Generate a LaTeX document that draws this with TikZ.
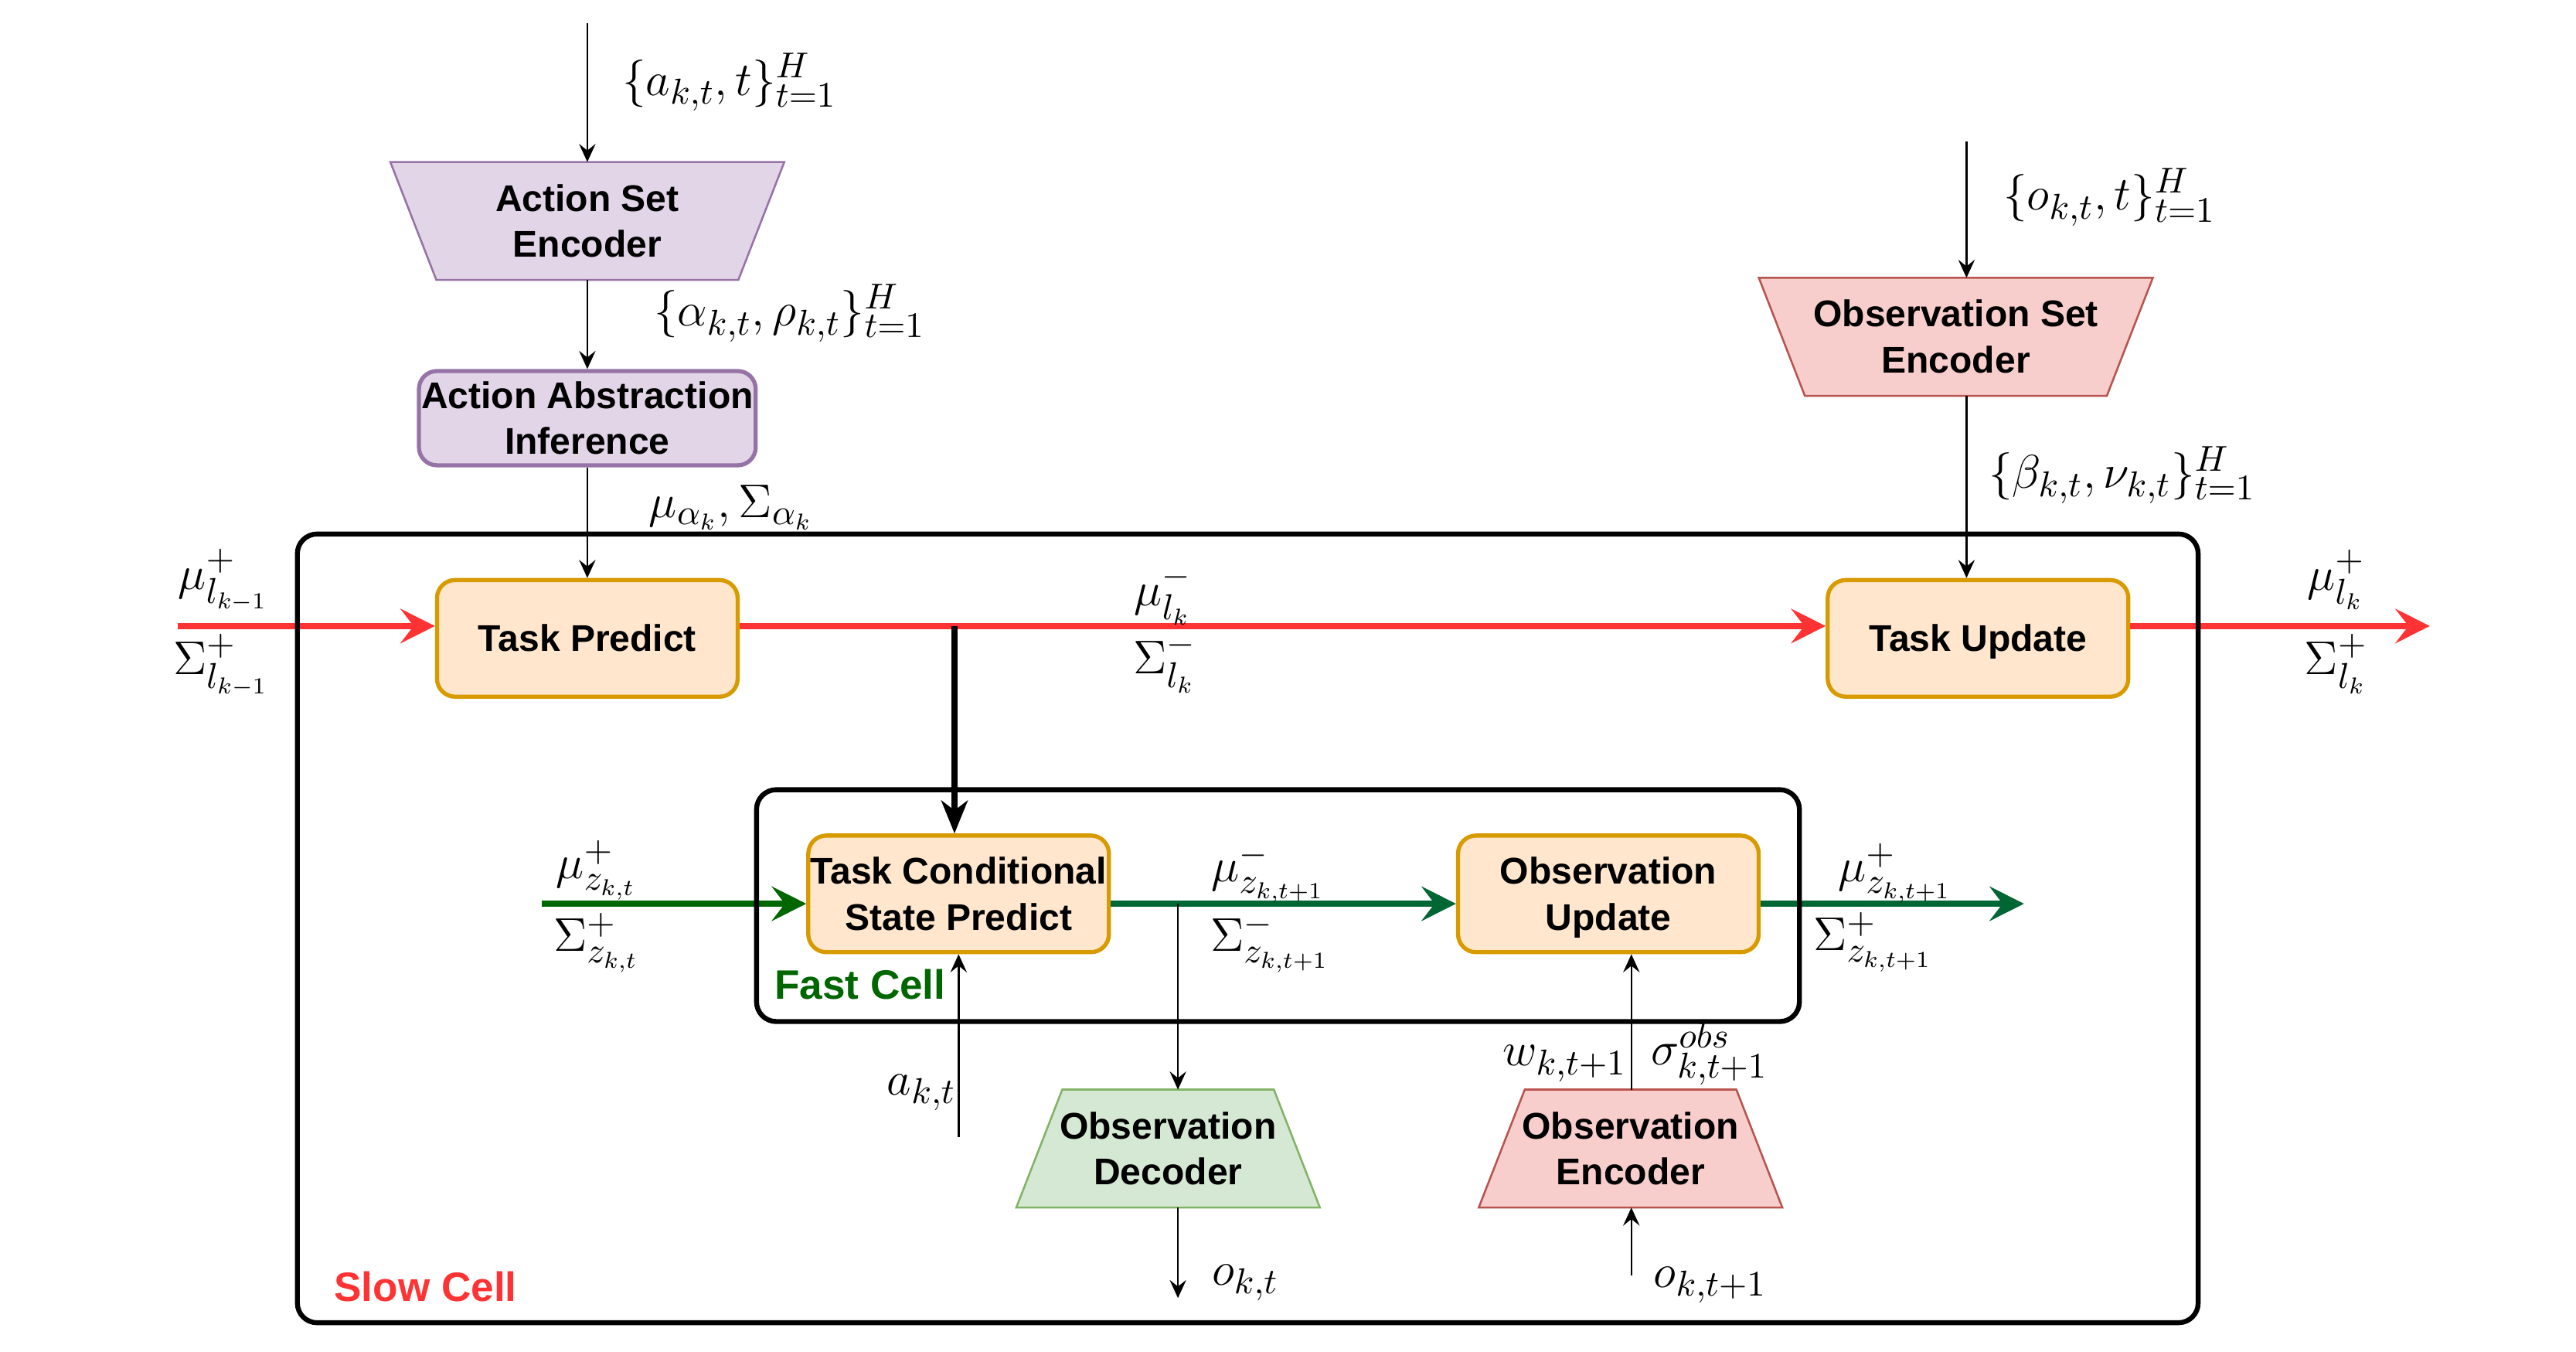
\documentclass[tikz,border=0pt]{standalone}
\usepackage[no-math]{fontspec}
\newfontfamily\boxfont{Liberation Sans}
\usetikzlibrary{arrows.meta,calc}
\pgfdeclarelayer{background}
\pgfsetlayers{background,main}
\definecolor{purpleF}{HTML}{E1D5E7}
\definecolor{purpleS}{HTML}{9673A6}
\definecolor{orangeF}{HTML}{FFE6CC}
\definecolor{orangeS}{HTML}{D79B00}
\definecolor{pinkF}{HTML}{F8CECC}
\definecolor{pinkS}{HTML}{B85450}
\definecolor{mintF}{HTML}{D5E8D4}
\definecolor{mintS}{HTML}{82B366}
\definecolor{flowred}{HTML}{FF3333}
\definecolor{flowgreenA}{HTML}{006600}
\definecolor{flowgreenB}{HTML}{006633}
\newcommand{\boxstrut}{\rule[-2.6pt]{0pt}{13.2pt}}
\begin{document}
\begin{tikzpicture}[x=0.5pt,y=-0.5pt,
  boxtxt/.style={font=\boxfont\bfseries\fontsize{11.3}{14}\selectfont, align=center, inner sep=0pt},
  orangebox/.style={boxtxt, draw=orangeS, fill=orangeF, line width=1.25pt, rounded corners=5.5pt, minimum width=91.5pt, minimum height=35.5pt},
  purplebox/.style={boxtxt, draw=purpleS, fill=purpleF, line width=1.25pt, rounded corners=5.5pt},
  trapbox/.style={boxtxt, minimum height=35.5pt},
  trapline/.style={line width=0.6pt},
  cellbox/.style={draw=black, line width=1.5pt, rounded corners=6pt, inner sep=0pt},
  mathlbl/.style={font=\fontsize{15}{18}\selectfont, inner sep=0pt},
  celllbl/.style={font=\boxfont\bfseries\fontsize{12.5}{15}\selectfont, inner sep=0pt, anchor=base west},
  thinarrow/.style={draw=black, line width=0.6pt, -{Stealth[length=5.5pt,width=5pt,inset=2pt]}},
  thickarrow/.style={draw=black, line width=1.75pt, -{Stealth[length=10pt,width=8pt,inset=3pt]}},
  redflow/.style={draw=flowred, line width=2pt, -{Stealth[length=10.5pt,width=10.5pt,inset=4pt]}},
  greenflowA/.style={draw=flowgreenA, line width=2pt, -{Stealth[length=10.5pt,width=10.5pt,inset=4pt]}},
  greenflowB/.style={draw=flowgreenB, line width=2pt, -{Stealth[length=10.5pt,width=10.5pt,inset=4pt]}}
]
\useasboundingbox (0,0) rectangle (1568,822.7);

% ---------- boxes ----------
\node[trapbox, minimum width=119.5pt] (ase) at (357.5,134.5) {\boxstrut Action Set\\\boxstrut Encoder};
\node[purplebox, minimum width=102.5pt, minimum height=28.7pt, font=\boxfont\bfseries\fontsize{11.3}{13.8}\selectfont] (aai) at (357.5,254.5) {\boxstrut Action Abstraction\\\boxstrut Inference};
\node[orangebox] (tp) at (357.5,388.5) {\boxstrut Task Predict};
\node[orangebox] (tu) at (1204,388.5) {\boxstrut Task Update};
\node[trapbox, minimum width=119.5pt] (ose) at (1190.5,205) {\boxstrut Observation Set\\\boxstrut Encoder};
\node[orangebox] (tcsp) at (583.5,544) {\boxstrut Task Conditional\\\boxstrut State Predict};
\node[orangebox] (ou) at (979,544) {\boxstrut Observation\\\boxstrut Update};
\node[trapbox, minimum width=92pt] (od) at (711,699) {\boxstrut Observation\\\boxstrut Decoder};
\node[trapbox, minimum width=92pt] (oe) at (992.5,699) {\boxstrut Observation\\\boxstrut Encoder};

\begin{pgfonlayer}{background}
  \path[trapline, draw=purpleS, fill=purpleF] (ase.north west) -- (ase.north east) -- ([xshift=-14pt]ase.south east) -- ([xshift=14pt]ase.south west) -- cycle;
  \path[trapline, draw=pinkS, fill=pinkF] (ose.north west) -- (ose.north east) -- ([xshift=-14pt]ose.south east) -- ([xshift=14pt]ose.south west) -- cycle;
  \path[trapline, draw=mintS, fill=mintF] ([xshift=14pt]od.north west) -- ([xshift=-14pt]od.north east) -- (od.south east) -- (od.south west) -- cycle;
  \path[trapline, draw=pinkS, fill=pinkF] ([xshift=14pt]oe.north west) -- ([xshift=-14pt]oe.north east) -- (oe.south east) -- (oe.south west) -- cycle;
\end{pgfonlayer}

% ---------- coordinates ----------
\coordinate (ain) at (357.5,14);
\coordinate (oin) at (1197,86);
\coordinate (rin) at (108,381);
\coordinate (rout) at (1479,381);
\coordinate (tk) at (581,381);
\coordinate (gin) at (330,550);
\coordinate (gout) at (1232,550);
\coordinate (br) at (717,550);
\coordinate (actin) at (583.5,692);
\coordinate (odout) at (717,790);
\coordinate (oein) at (993,776);

% ---------- connectors ----------
\draw[thinarrow] (ain) -- (ase.north);
\draw[thinarrow] (ase.south) -- (aai.north);
\draw[thinarrow] (aai.south) -- (tp.north);
\draw[thinarrow] (oin) -- (oin |- ose.north);
\draw[thinarrow] (oin |- ose.south) -- (oin |- tu.north);

\draw[redflow] (rin) -- (rin -| tp.west);
\draw[redflow] (rin -| tp.east) -- (rin -| tu.west);
\draw[redflow] (rin -| tu.east) -- (rout);

\draw[thickarrow] (tk) -- (tk |- tcsp.north);

\draw[greenflowA] (gin) -- (gin -| tcsp.west);
\draw[greenflowB] (gin -| tcsp.east) -- (gin -| ou.west);
\draw[greenflowB] (gin -| ou.east) -- (gout);

\draw[thinarrow] (br) -- (br |- od.north);
\draw[thinarrow] (actin) -- (actin |- tcsp.south);
\draw[thinarrow] (odout |- od.south) -- (odout);
\draw[thinarrow] (oein) -- (oein |- oe.south);
\draw[thinarrow] (oein |- oe.north) -- (oein |- ou.south);

% ---------- cells ----------
\node[cellbox, minimum width=578.5pt, minimum height=240pt] (slow) at (759.5,565) {};
\node[cellbox, minimum width=317.4pt, minimum height=70.55pt] (fast) at (777.9,551.15) {};
\node[celllbl, text=flowred] (slowlbl) at (203,792) {Slow Cell};
\node[celllbl, text=flowgreenA] (fastlbl) at (471,608) {Fast Cell};

% ---------- labels ----------
\node[mathlbl] (la) at (444,50) {$\{a_{k,t},t\}_{t=1}^{H}$};
\node[mathlbl] (lalpha) at (480.6,190.5) {$\{\alpha_{k,t},\rho_{k,t}\}_{t=1}^{H}$};
\node[mathlbl] (lmua) at (445,309) {$\mu_{\alpha_k},\Sigma_{\alpha_k}$};
\node[mathlbl] (lo) at (1284,120) {$\{o_{k,t},t\}_{t=1}^{H}$};
\node[mathlbl] (lbeta) at (1291.7,289.2) {$\{\beta_{k,t},\nu_{k,t}\}_{t=1}^{H}$};

\node[mathlbl] (lmul0) at (136,353) {$\mu^{+}_{l_{k-1}}$};
\node[mathlbl] (lsigl0) at (134.5,405) {$\Sigma^{+}_{l_{k-1}}$};
\node[mathlbl] (lmul1) at (708,362) {$\mu^{-}_{l_{k}}$};
\node[mathlbl] (lsigl1) at (709,403.6) {$\Sigma^{-}_{l_{k}}$};
\node[mathlbl] (lmul2) at (1422,353) {$\mu^{+}_{l_{k}}$};
\node[mathlbl] (lsigl2) at (1422,404) {$\Sigma^{+}_{l_{k}}$};

\node[mathlbl] (lmuz0) at (363,529.5) {$\mu^{+}_{z_{k,t}}$};
\node[mathlbl] (lsigz0) at (363,574) {$\Sigma^{+}_{z_{k,t}}$};
\node[mathlbl] (lmuz1) at (772,531.5) {$\mu^{-}_{z_{k,t+1}}$};
\node[mathlbl] (lsigz1) at (773,574) {$\Sigma^{-}_{z_{k,t+1}}$};
\node[mathlbl] (lmuz2) at (1153.5,531.5) {$\mu^{+}_{z_{k,t+1}}$};
\node[mathlbl] (lsigz2) at (1140,573.5) {$\Sigma^{+}_{z_{k,t+1}}$};

\node[mathlbl] (lact) at (561,665) {$a_{k,t}$};
\node[mathlbl] (lokt) at (758,780.5) {$o_{k,t}$};
\node[mathlbl] (lokt1) at (1041,782) {$o_{k,t+1}$};
\node[mathlbl] (lw) at (952.5,647.3) {$w_{k,t+1}$};
\node[mathlbl] (lsigobs) at (1040.5,641.3) {$\sigma^{obs}_{k,t+1}$};
\end{tikzpicture}
\end{document}
